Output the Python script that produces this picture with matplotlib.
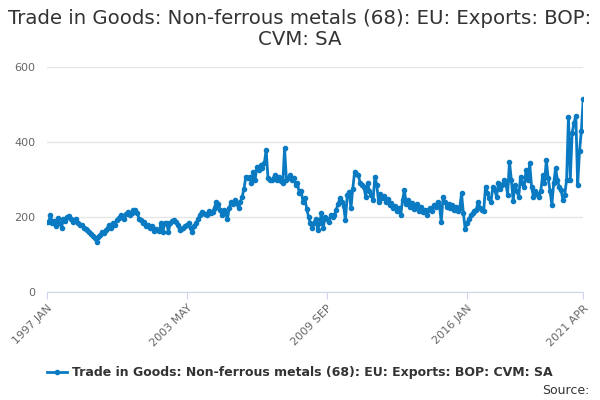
import matplotlib
matplotlib.use("Agg")
import matplotlib.pyplot as plt
import numpy as np

# ─── Data (monthly, 1997 JAN .. 2021 APR) ────────────────────────────────────

values = [
    187, 186, 205, 184, 190, 175, 198, 185, 172, 195, 190, 200,   # 1997
    203, 196, 188, 193, 195, 185, 178, 180, 170, 168, 165, 160,   # 1998
    155, 150, 145, 134, 148, 152, 161, 158, 165, 172, 179, 170,   # 1999
    185, 180, 192, 198, 205, 200, 195, 208, 214, 205, 212, 218,   # 2000
    220, 212, 196, 192, 185, 188, 176, 180, 172, 175, 163, 168,   # 2001
    165, 162, 184, 160, 185, 184, 160, 185, 190, 192, 188, 180,   # 2002
    165, 168, 172, 175, 179, 185, 170, 161, 175, 184, 195, 205,   # 2003
    214, 210, 208, 205, 215, 210, 214, 225, 241, 236, 220, 205,   # 2004
    219, 210, 196, 225, 241, 235, 245, 238, 223, 240, 254, 276,   # 2005
    308, 305, 308, 290, 321, 300, 334, 325, 338, 330, 343, 379,   # 2006
    303, 300, 298, 305, 312, 300, 308, 295, 290, 383, 299, 305,   # 2007
    312, 300, 305, 285, 290, 263, 270, 240, 250, 222, 200, 183,   # 2008
    170, 185, 196, 165, 185, 210, 172, 200, 195, 187, 205, 200,   # 2009
    205, 219, 235, 250, 240, 230, 192, 259, 267, 223, 276, 321,   # 2010
    315, 312, 290, 285, 280, 254, 290, 270, 258, 245, 308, 285,   # 2011
    241, 262, 250, 255, 240, 248, 232, 238, 225, 230, 215, 225,   # 2012
    205, 245, 272, 236, 245, 228, 238, 222, 230, 235, 215, 228,   # 2013
    214, 220, 205, 218, 225, 215, 232, 228, 241, 230, 187, 254,   # 2014
    240, 228, 236, 224, 232, 220, 228, 215, 225, 263, 210, 167,   # 2015
    185, 195, 205, 210, 215, 220, 241, 225, 219, 215, 281, 265,   # 2016
    250, 241, 281, 272, 254, 290, 275, 285, 299, 290, 260, 348,   # 2017
    300, 243, 285, 270, 254, 308, 290, 280, 325, 300, 343, 280,   # 2018
    254, 270, 262, 254, 270, 312, 290, 352, 303, 270, 232, 290,   # 2019
    330, 300, 280, 272, 245, 260, 300, 468, 300, 425, 450, 470,   # 2020
    285, 375, 430, 515,                                           # 2021
]

tick_labels = ["1997 JAN", "2003 MAY", "2009 SEP", "2016 JAN", "2021 APR"]
tick_index = [0, 76, 152, 228, 291]
y_ticks = [0, 200, 400, 600]

series_name = "Trade in Goods: Non-ferrous metals (68): EU: Exports: BOP: CVM: SA"
title = "Trade in Goods: Non-ferrous metals (68): EU: Exports: BOP:\nCVM: SA"

# ─── Plot ────────────────────────────────────────────────────────────────────

plt.rcParams["font.family"] = ["DejaVu Sans"]
color = "#0a7bc2"

fig = plt.figure(figsize=(6, 4), dpi=100)
ax = fig.add_axes([0.078, 0.27, 0.894, 0.5625])

x = np.arange(len(values))
line, = ax.plot(x, values, color=color, lw=2, marker="o", ms=3,
                label=series_name, zorder=3)

ax.set_xlim(0, len(values) - 1)
ax.set_ylim(0, 600)
ax.set_yticks(y_ticks)
ax.set_yticklabels([str(v) for v in y_ticks])
ax.set_xticks(tick_index)
ax.set_xticklabels(tick_labels, rotation=45, ha="right", rotation_mode="anchor")
ax.tick_params(axis="x", colors="#666666", labelsize=8, length=5,
               color="#ccd6eb", pad=3)
ax.tick_params(axis="y", colors="#666666", labelsize=8, length=0, pad=8)
ax.grid(True, axis="y", color="#e6e6e6", lw=1)
ax.set_axisbelow(True)
for side in ("left", "right", "top"):
    ax.spines[side].set_visible(False)
ax.spines["bottom"].set_color("#ccd6eb")

fig.suptitle(title, fontsize=14.2, color="#333333", y=0.978, linespacing=1.15)

leg = fig.legend(handles=[line], loc="center", bbox_to_anchor=(0.5, 0.068),
                 frameon=False, prop={"weight": "bold", "size": 9},
                 handlelength=1.6, handletextpad=0.4)
for t in leg.get_texts():
    t.set_color("#333333")

fig.text(0.982, 0.025, "Source:", ha="right", va="center", fontsize=9,
         color="#333333")

fig.savefig("out.png", dpi=100)
plt.close(fig)
